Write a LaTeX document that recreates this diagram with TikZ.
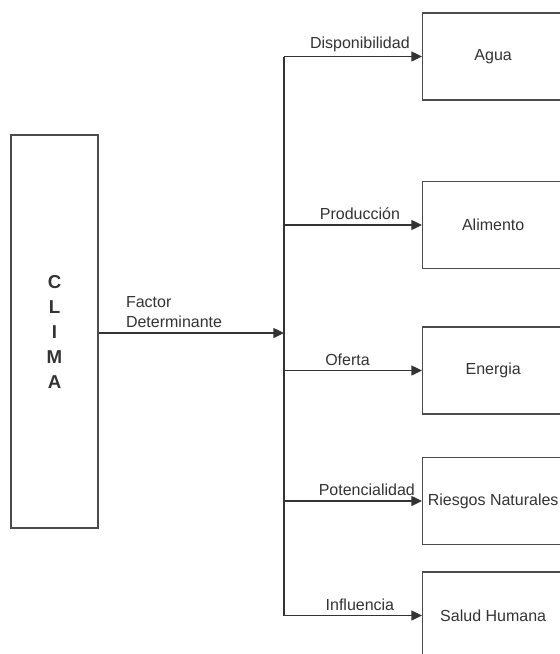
\documentclass[tikz,border=0pt]{standalone}
\usepackage{fontspec}
\setmainfont{Liberation Sans}
\usetikzlibrary{arrows.meta}
\begin{document}
\begin{tikzpicture}[x=0.75pt,y=-0.75pt,
	caja/.style={draw=black!70,line width=1pt,minimum width=105.75pt,minimum height=65.25pt,anchor=west,font=\fontsize{12}{15}\selectfont,text=black!80},
	flecha/.style={draw=black!80,line width=1pt,-{Triangle[length=8pt,width=7.5pt]}},
	etiqueta/.style={above,font=\fontsize{12}{15}\selectfont,text=black!80}]
		\path[use as bounding box,clip] (0,0) rectangle (560,654);
		\node[caja,minimum width=65.25pt,minimum height=294.75pt,anchor=center,font=\fontsize{14}{18.75}\selectfont\bfseries,align=center] (clima) at (54.5,331.5) {C\\L\\I\\M\\A};
		\node[caja] (agua) at (422,56.5) {Agua};
		\node[caja] (alimento) at (422,225) {Alimento};
		\node[caja] (energia) at (422,370.5) {Energia};
		\node[caja] (riesgos) at (422,501) {Riesgos Naturales};
		\node[caja] (salud) at (422,615.5) {Salud Humana};
		\coordinate (bus) at (284,333);
		\draw[flecha] (clima.east |- bus) -- node[etiqueta,anchor=south west,pos=0.12,align=left] {Factor\\Determinante} (bus);
		\draw[draw=black!80,line width=1pt] (agua.west -| bus) -- (salud.west -| bus);
		\draw[flecha] (agua.west -| bus) -- node[etiqueta,pos=0.55] {Disponibilidad} (agua.west);
		\draw[flecha] (alimento.west -| bus) -- node[etiqueta,pos=0.55] {Producción} (alimento.west);
		\draw[flecha] (energia.west -| bus) -- node[etiqueta,pos=0.46] {Oferta} (energia.west);
		\draw[flecha] (riesgos.west -| bus) -- node[etiqueta,pos=0.6] {Potencialidad} (riesgos.west);
		\draw[flecha] (salud.west -| bus) -- node[etiqueta,pos=0.55] {Influencia} (salud.west);
	\end{tikzpicture}
\end{document}
